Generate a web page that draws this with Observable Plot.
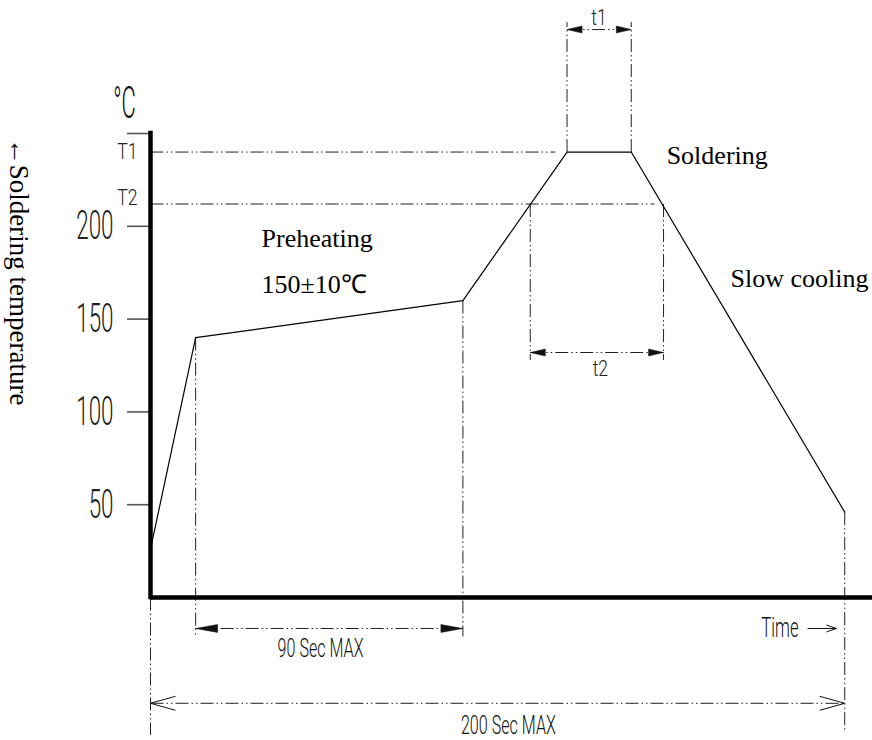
<!DOCTYPE html>
<html>
<head>
<meta charset="utf-8">
<script src="https://cdn.jsdelivr.net/npm/d3@7"></script>
<script src="https://cdn.jsdelivr.net/npm/@observablehq/plot@0.6"></script>
<style>
  html, body { margin: 0; padding: 0; background: #fff; }
  #chart svg { display: block; overflow: visible; }
</style>
</head>
<body>
<div id="chart"></div>
<script>
// ---- data (time in s, temperature in °C) ----
const profileTime = [0, 13, 90, 120, 138.5, 200];
const profileTemp = [26, 140, 160, 240, 240, 46];
const yTicks = [50, 100, 150, 200, 250];
const yTickLabels = ["50", "100", "150", "200", ""];
const T1 = 240;
const T2 = 212;
const t2Start = 109.4;
const t2End = 147.8;
const levelNames = ["T1", "T2"];
const levelValues = [T1, T2];
const levelEnds = [116.6, 145.2];

// dimension lines: [name, from, to, level]
const dimNames = ["t1", "t2", "90 Sec MAX", "200 Sec MAX"];
const dimFrom = [120, t2Start, 13, 0];
const dimTo = [138.5, t2End, 90, 200];
const dimLevel = [306, 132, -16.7, -57];

// extension lines
const extX = [13, 90, 0, 200, 120, 138.5, t2Start, t2End];
const extFrom = [140, 160, 0, 46, 240, 240, T2, T2];
const extTo = [-21, -21, -74, -72, 310, 310, 128, 128];

// annotations
const serifText = ["Preheating", "150±10℃", "Soldering", "Slow cooling"];
const serifX = [32, 32, 148.7, 167.1];
const serifY = [193.6, 168.8, 238.3, 172];

const cadText = ["t1", "t2", "90 Sec MAX", "200 Sec MAX"];
const cadX = [129.2, 129.6, 49, 103.1];
const cadY = [312, 123.4, -27.5, -69];

// ---- build tables ----
const profile = profileTime.map((t, i) => ({time: t, temp: profileTemp[i]}));
const levels = levelNames.map((n, i) => ({name: n, value: levelValues[i], end: levelEnds[i]}));
const dims = dimNames.map((n, i) => ({name: n, x1: dimFrom[i], x2: dimTo[i], y: dimLevel[i]}));
const exts = extX.map((x, i) => ({x, y1: extFrom[i], y2: extTo[i]}));
const serif = serifText.map((t, i) => ({text: t, x: serifX[i], y: serifY[i]}));
const cad = cadText.map((t, i) => ({text: t, x: cadX[i], y: cadY[i]}));

const DASH = "13,3,1.5,3,1.5,3";
const DCOL = "#222";

function head(L, w, dir, open) {
  return {
    draw(ctx) {
      const s = dir === "right" ? -1 : 1;
      if (open) {
        ctx.moveTo(s * L, -w); ctx.lineTo(0, 0); ctx.lineTo(s * L, w);
      } else {
        ctx.moveTo(0, 0); ctx.lineTo(s * L, -w); ctx.lineTo(s * L, w); ctx.closePath();
      }
    }
  };
}

const headSpec = {
  "t1": [15, 3.5, false],
  "t2": [15, 3.5, false],
  "90 Sec MAX": [22, 4, false],
  "200 Sec MAX": [25, 7, true]
};

const dimMarks = dims.flatMap(d => {
  const [L, w, open] = headSpec[d.name];
  const style = open ? {fill: "none", stroke: "#111", strokeWidth: 1} : {fill: "#111", stroke: "#111", strokeWidth: 0.5};
  return [
    Plot.link([d], {x1: "x1", x2: "x2", y1: "y", y2: "y", stroke: DCOL, strokeWidth: 1, strokeDasharray: DASH}),
    Plot.dot([d], {x: "x1", y: "y", symbol: head(L, w, "left", open), r: 5, ...style}),
    Plot.dot([d], {x: "x2", y: "y", symbol: head(L, w, "right", open), r: 5, ...style})
  ];
});

const FT_TICK = "Roboto, tickfont";
const FT_SMALL = "Roboto, smallfont";
const FT_MID = "Roboto, midfont";
const FT_UNIT = "Roboto, unitfont";

const chart = Plot.plot({
  width: 872,
  height: 740,
  marginLeft: 150,
  marginRight: 0,
  marginTop: 133,
  marginBottom: 143,
  x: {domain: [0, 208], axis: null},
  y: {domain: [0, 250], axis: null},
  marks: [
    // extension lines
    Plot.link(exts, {x1: "x", x2: "x", y1: "y1", y2: "y2", stroke: DCOL, strokeWidth: 1, strokeDasharray: DASH}),
    // T1 / T2 levels
    Plot.link(levels, {x1: 0, x2: "end", y1: "value", y2: "value", stroke: DCOL, strokeWidth: 1, strokeDasharray: DASH}),
    ...dimMarks,
    // Time arrow
    Plot.link([{a: 189.3, b: 197.6, y: -16.7}], {x1: "a", x2: "b", y1: "y", y2: "y", stroke: "#111", strokeWidth: 1}),
    Plot.dot([{b: 197.6, y: -16.7}], {x: "b", y: "y", symbol: head(10, 3.5, "right", true), r: 4, fill: "none", stroke: "#111", strokeWidth: 1}),
    // profile
    Plot.line(profile, {x: "time", y: "temp", stroke: "#000", strokeWidth: 1.2}),
    // y axis ticks and labels
    Plot.axisY({ticks: yTicks, tickFormat: d => yTickLabels[yTicks.indexOf(d)], tickSize: 23, tickPadding: 14,
      fontSize: 40, fontFamily: FT_TICK, fontWeight: 300, stroke: "#555", fill: "#222", strokeWidth: 1.6, label: null}),
    // thick axes
    Plot.ruleX([0], {y1: 0, y2: 250, stroke: "#000", strokeWidth: 4.5, strokeLinecap: "square"}),
    Plot.ruleY([0], {x1: 0, x2: 208, stroke: "#000", strokeWidth: 4.5, strokeLinecap: "butt"}),
    // level labels
    Plot.text(levels.slice(0, 1), {x: 0, y: "value", text: "name", dx: -13, textAnchor: "end",
      fontSize: 22, fontFamily: FT_SMALL, fontWeight: 300, fill: "#222"}),
    Plot.text(levels.slice(1), {x: 0, y: "value", text: "name", dx: -13, dy: -6, textAnchor: "end",
      fontSize: 22, fontFamily: FT_SMALL, fontWeight: 300, fill: "#222"}),
    // CAD labels
    Plot.text(cad.slice(0, 2), {x: "x", y: "y", text: "text", fontSize: 22, fontFamily: FT_SMALL, fontWeight: 300, fill: "#222"}),
    Plot.text(cad.slice(2), {x: "x", y: "y", text: "text", fontSize: 26, fontFamily: FT_MID, fontWeight: 300, fill: "#111"}),
    Plot.text([{t: "Time", x: 186.7, y: -16.7}], {x: "x", y: "y", text: "t", textAnchor: "end", fontSize: 27, fontFamily: FT_MID, fontWeight: 300, fill: "#111"}),
    Plot.text([{t: "°C", x: -7.5, y: 266}], {x: "x", y: "y", text: "t", fontSize: 44, fontFamily: FT_UNIT, fontWeight: 300, fill: "#111"}),
    // serif labels
    Plot.text(serif, {x: "x", y: "y", text: "text", textAnchor: "start", fontSize: 26, fontFamily: "Liberation Serif", fill: "#000"}),
    Plot.text([{t: "←Soldering temperature", x: -38, y: 175.6}], {x: "x", y: "y", text: "t", rotate: 90,
      fontSize: 27, fontFamily: "Liberation Serif", fill: "#000"})
  ]
});

// condense the CAD-style lettering
const squeeze = {[FT_TICK]: 0.56, [FT_SMALL]: 0.8, [FT_MID]: 0.62, [FT_UNIT]: 0.5};
d3.select(chart).selectAll("g[font-family]").each(function() {
  const f = this.getAttribute("font-family");
  const s = squeeze[f];
  if (!s) return;
  d3.select(this).selectAll("text").each(function() {
    const tr = this.getAttribute("transform") || "";
    this.setAttribute("transform", tr + ` scale(${s},1)`);
  });
});

document.getElementById("chart").appendChild(chart);
</script>
</body>
</html>
